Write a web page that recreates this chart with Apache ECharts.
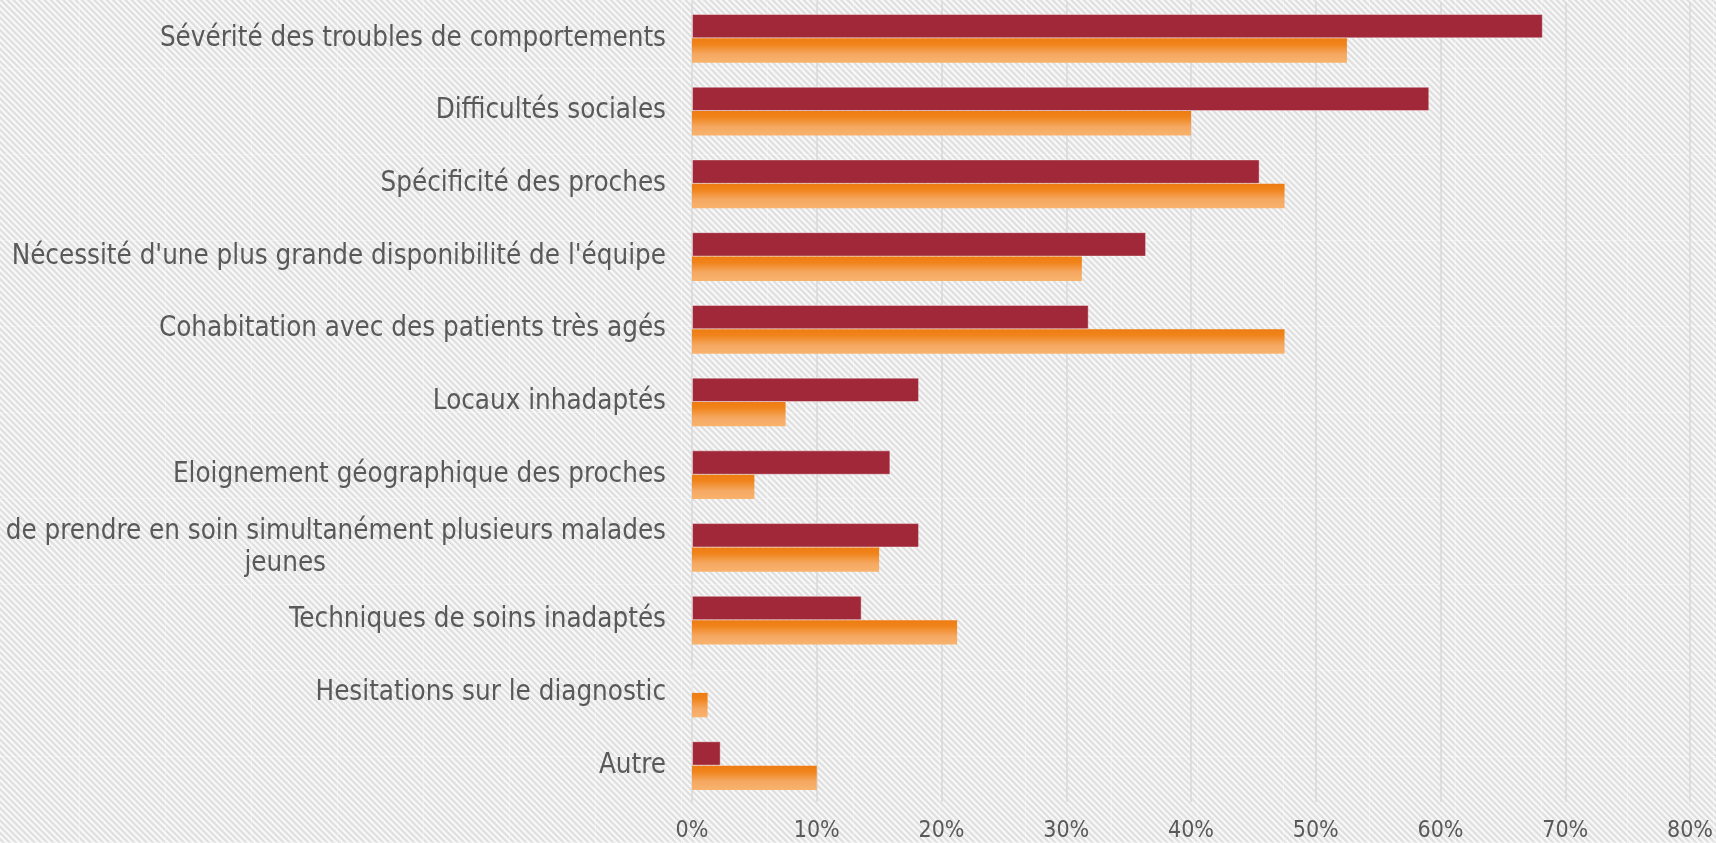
<!DOCTYPE html>
<html>
<head>
<meta charset="utf-8">
<script src="https://cdn.jsdelivr.net/npm/echarts@6/dist/echarts.min.js"></script>
<style>
  html, body { margin: 0; padding: 0; width: 1716px; height: 843px; overflow: hidden; }
  body {
    background-color: #efefef;
    background-image:
      linear-gradient(to right, rgba(255,255,255,0.3) 1px, transparent 1px),
      linear-gradient(to bottom, rgba(255,255,255,0.3) 1px, transparent 1px),
      repeating-linear-gradient(45deg, #f8f8f8 0px, #f8f8f8 1.2px, #dfdfdf 2.2px, #dfdfdf 3.4px, #f8f8f8 4.4px);
    background-size: 86px 86px, 86px 86px, auto;
    background-position: 79px 0, 0 68px, 0 0;
  }
  #chart { width: 1716px; height: 843px; }
</style>
</head>
<body>
<div id="chart"></div>
<script>
const categories = [
  "Sévérité des troubles de comportements",
  "Difficultés sociales",
  "Spécificité des proches",
  "Nécessité d'une plus grande disponibilité de l'équipe",
  "Cohabitation avec des patients très agés",
  "Locaux inhadaptés",
  "Eloignement géographique des proches",
  "de prendre en soin simultanément plusieurs malades\njeunes",
  "Techniques de soins inadaptés",
  "Hesitations sur le diagnostic",
  "Autre"
];
const seriesA = [68.2, 59.1, 45.5, 36.4, 31.8, 18.2, 15.9, 18.2, 13.6, 0, 2.3];
const seriesB = [52.5, 40.0, 47.5, 31.25, 47.5, 7.5, 5.0, 15.0, 21.25, 1.25, 10.0];
const xTicks = { min: 0, max: 80, interval: 10 };

const FONT = '"DejaVu Sans Condensed", "DejaVu Sans", sans-serif';
const TEXT = '#595959';

const chart = echarts.init(document.getElementById('chart'), null, { renderer: 'canvas' });
chart.setOption({
  backgroundColor: 'transparent',
  animation: false,
  grid: { left: 692, right: 24, top: 2, bottom: 41, containLabel: false },
  xAxis: {
    type: 'value',
    min: xTicks.min, max: xTicks.max, interval: xTicks.interval,
    axisLine: { show: false },
    axisTick: { show: false },
    axisLabel: {
      formatter: '{value}%',
      color: TEXT, fontFamily: FONT, fontSize: 23, margin: 18
    },
    splitLine: { show: true, lineStyle: { color: '#d9d9d9', width: 1.5 } }
  },
  yAxis: {
    type: 'category',
    inverse: true,
    data: categories,
    axisLine: { show: false },
    axisTick: { show: false },
    axisLabel: {
      color: TEXT, fontFamily: FONT, fontSize: 27.5, margin: 26, lineHeight: 32,
      formatter: function (v) {
        const parts = v.split('\n');
        if (parts.length > 1) return parts[0] + '\n{j|' + parts[1] + '}';
        return v;
      },
      rich: {
        j: { color: TEXT, fontFamily: FONT, fontSize: 27.5, lineHeight: 32, padding: [0, 340, 0, 0] }
      }
    }
  },
  series: [
    {
      name: 'Série 1', type: 'bar', data: seriesA,
      barGap: '0%', barCategoryGap: '33%',
      itemStyle: { color: '#A02838', borderColor: 'rgba(255,255,255,0.4)', borderWidth: 1 }
    },
    {
      name: 'Série 2', type: 'bar', data: seriesB,
      barGap: '0%', barCategoryGap: '33%',
      itemStyle: {
        color: new echarts.graphic.LinearGradient(0, 0, 0, 1, [
          { offset: 0, color: '#EE7C12' },
          { offset: 0.25, color: '#F0841B' },
          { offset: 0.65, color: '#F5A862' },
          { offset: 1, color: '#F8B36D' }
        ])
      }
    }
  ]
});
</script>
</body>
</html>
